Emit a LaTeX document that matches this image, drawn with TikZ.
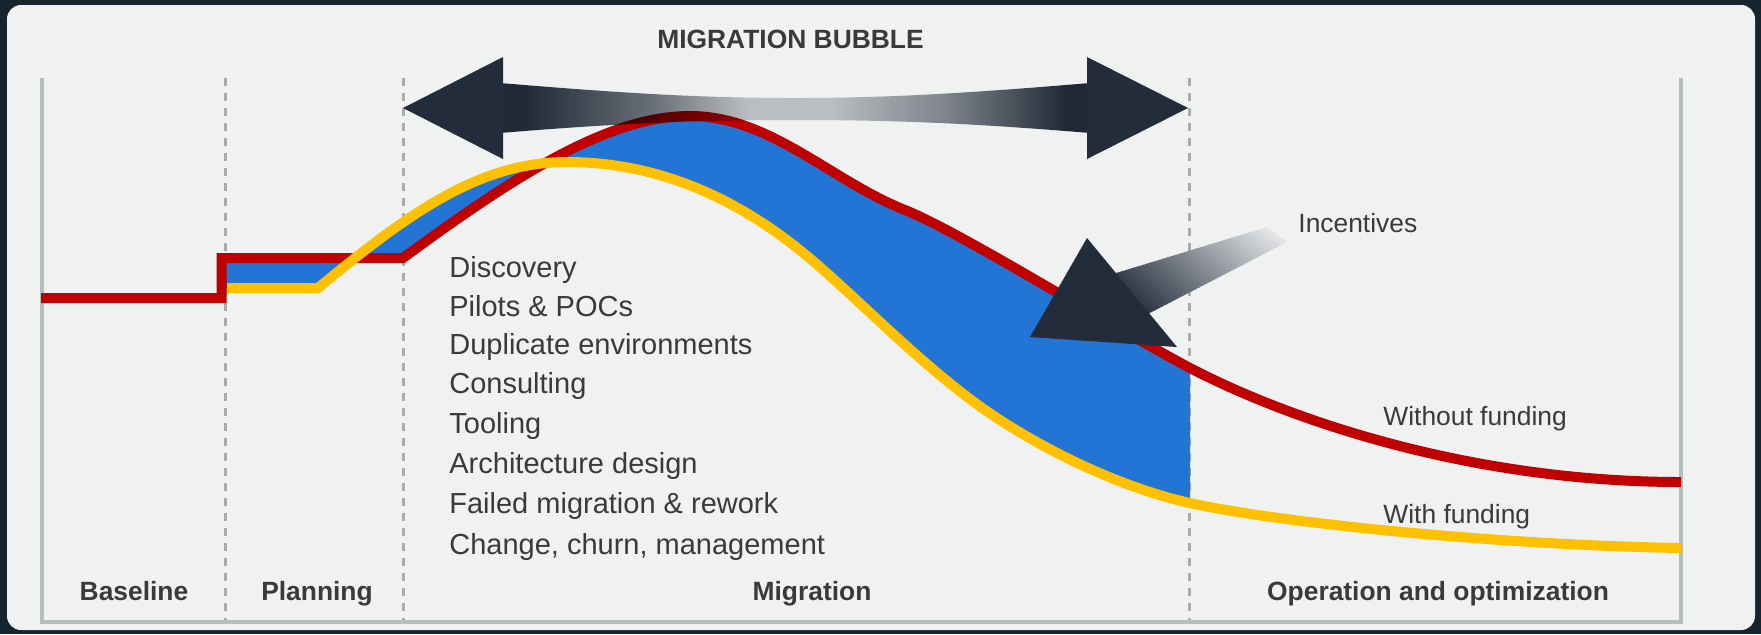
\documentclass[tikz,border=0pt]{standalone}
\usepackage{fontspec}
\setmainfont{Liberation Sans}
\usetikzlibrary{calc}
\definecolor{frame}{HTML}{15242E}
\definecolor{panel}{HTML}{F0F1F1}
\definecolor{axisgray}{HTML}{B5BEBE}
\definecolor{dashgray}{HTML}{ABABAB}
\definecolor{redline}{HTML}{C00000}
\definecolor{yellowline}{HTML}{FFC000}
\definecolor{bubble}{HTML}{2275D4}
\definecolor{arrowdark}{HTML}{232C3A}
\definecolor{shaftmidL}{HTML}{71777F}
\definecolor{shaftmidR}{HTML}{858A91}
\definecolor{shaftlight}{HTML}{C6C9CD}
\definecolor{tailc}{HTML}{E2E4E6}
\definecolor{txt}{HTML}{3A3A3A}
\pgfdeclarehorizontalshading{bubbleshaft}{100bp}{color(0bp)=(arrowdark); color(27bp)=(arrowdark); color(38bp)=(shaftmidL); color(46bp)=(shaftlight); color(53bp)=(shaftlight); color(63bp)=(shaftmidR); color(73bp)=(arrowdark); color(100bp)=(arrowdark)}
\begin{document}
\begin{tikzpicture}[x=0.5pt,y=-0.5pt,
  axisline/.style={draw=axisgray,line width=2pt},
  divider/.style={draw=dashgray,line width=1.5pt,dash pattern=on 4pt off 3.5pt},
  curve/.style={line width=5pt,line join=miter},
  listitem/.style={anchor=base west,text=txt,font=\fontsize{14.5}{17}\selectfont,inner sep=0pt},
  phase/.style={anchor=base,text=txt,font=\fontsize{13.2}{16}\selectfont\bfseries,inner sep=0pt},
  note/.style={anchor=base west,text=txt,font=\fontsize{13.2}{16}\selectfont,inner sep=0pt}]
\useasboundingbox (0,0) rectangle (1761,634);
\fill[frame] (0,0) rectangle (1761,634);
\fill[panel,rounded corners=7pt] (7,5) rectangle (1755,630);
% axes and dividers
\draw[axisline] (41.5,78) -- (41.5,622) -- (1681,622) -- (1681,78);
\foreach \xx in {225.7,403.3,1189.5} \draw[divider] (\xx,78) -- (\xx,620);
% bubble
\fill[bubble] (221.5,258) -- (403,258)
  .. controls (520,172) and (610,116) .. (690,116)
  .. controls (770,116) and (830,180) .. (905,210)
  .. controls (960,232) and (1100,320) .. (1190,368)
  -- (1190,503)
  .. controls (1140,492) and (1070,465) .. (1000,420)
  .. controls (930,375) and (860,300) .. (807,256)
  .. controls (740,200) and (660,162) .. (567,162)
  .. controls (480,162) and (410,212) .. (318,288)
  -- (221.5,288) -- cycle;
% curves
\draw[curve,redline] (41,298) -- (221.5,298) -- (221.5,258) -- (403,258)
  .. controls (520,172) and (610,116) .. (690,116)
  .. controls (770,116) and (830,180) .. (905,210)
  .. controls (960,232) and (1100,320) .. (1190,368)
  .. controls (1300,425) and (1480,482) .. (1681,482);
\draw[curve,yellowline] (227,288) -- (318,288)
  .. controls (410,212) and (480,162) .. (567,162)
  .. controls (660,162) and (740,200) .. (807,256)
  .. controls (860,300) and (930,375) .. (1000,420)
  .. controls (1070,465) and (1140,492) .. (1190,503)
  .. controls (1280,523) and (1500,545) .. (1681,548);
% migration bubble double arrow
\shade[shading=bubbleshaft,blend mode=multiply] (500,83) .. controls (620,93) and (700,98) .. (795,98) .. controls (890,98) and (970,93) .. (1090,83) -- (1090,133) .. controls (970,123) and (890,120) .. (795,120) .. controls (700,120) and (620,123) .. (500,133) -- cycle;
\fill[arrowdark] (403,108) -- (503,57) -- (503,159) -- cycle;
\fill[arrowdark] (1188,108) -- (1087,57) -- (1087,159) -- cycle;
% incentives arrow
\coordinate (U0) at (1100,278);
\coordinate (U1) at (1267,227);
\coordinate (D0) at (1140,318);
\coordinate (D1) at (1287,242);
\foreach \i in {0,...,39} {
  \pgfmathsetmacro\ta{\i/40}
  \pgfmathsetmacro\tb{min(1,(\i+1.3)/40)}
  \pgfmathtruncatemacro\pc{100-\i*100/39}
  \fill[arrowdark!\pc!tailc] ($(U0)!\ta!(U1)$) -- ($(U0)!\tb!(U1)$) -- ($(D0)!\tb!(D1)$) -- ($(D0)!\ta!(D1)$) -- cycle;
}
\fill[arrowdark] (1030,337) -- (1087,238) -- (1177,347) -- cycle;
% texts
\node[phase] (title) at (790.5,48) {MIGRATION BUBBLE};
\node[listitem] (l1) at (449,277) {Discovery};
\node[listitem] (l2) at (449,316) {Pilots \& POCs};
\node[listitem] (l3) at (449,354) {Duplicate environments};
\node[listitem] (l4) at (449,393) {Consulting};
\node[listitem] (l5) at (449,433) {Tooling};
\node[listitem] (l6) at (449,473) {Architecture design};
\node[listitem] (l7) at (449,513) {Failed migration \& rework};
\node[listitem] (l8) at (449,554) {Change, churn, management};
\node[note] (inc) at (1298,232) {Incentives};
\node[note] (wo) at (1383,425) {Without funding};
\node[note] (wi) at (1383,523) {With funding};
\node[phase] (p1) at (134,600) {Baseline};
\node[phase] (p2) at (317,600) {Planning};
\node[phase] (p3) at (812,600) {Migration};
\node[phase] (p4) at (1438,600) {Operation and optimization};
\end{tikzpicture}
\end{document}
